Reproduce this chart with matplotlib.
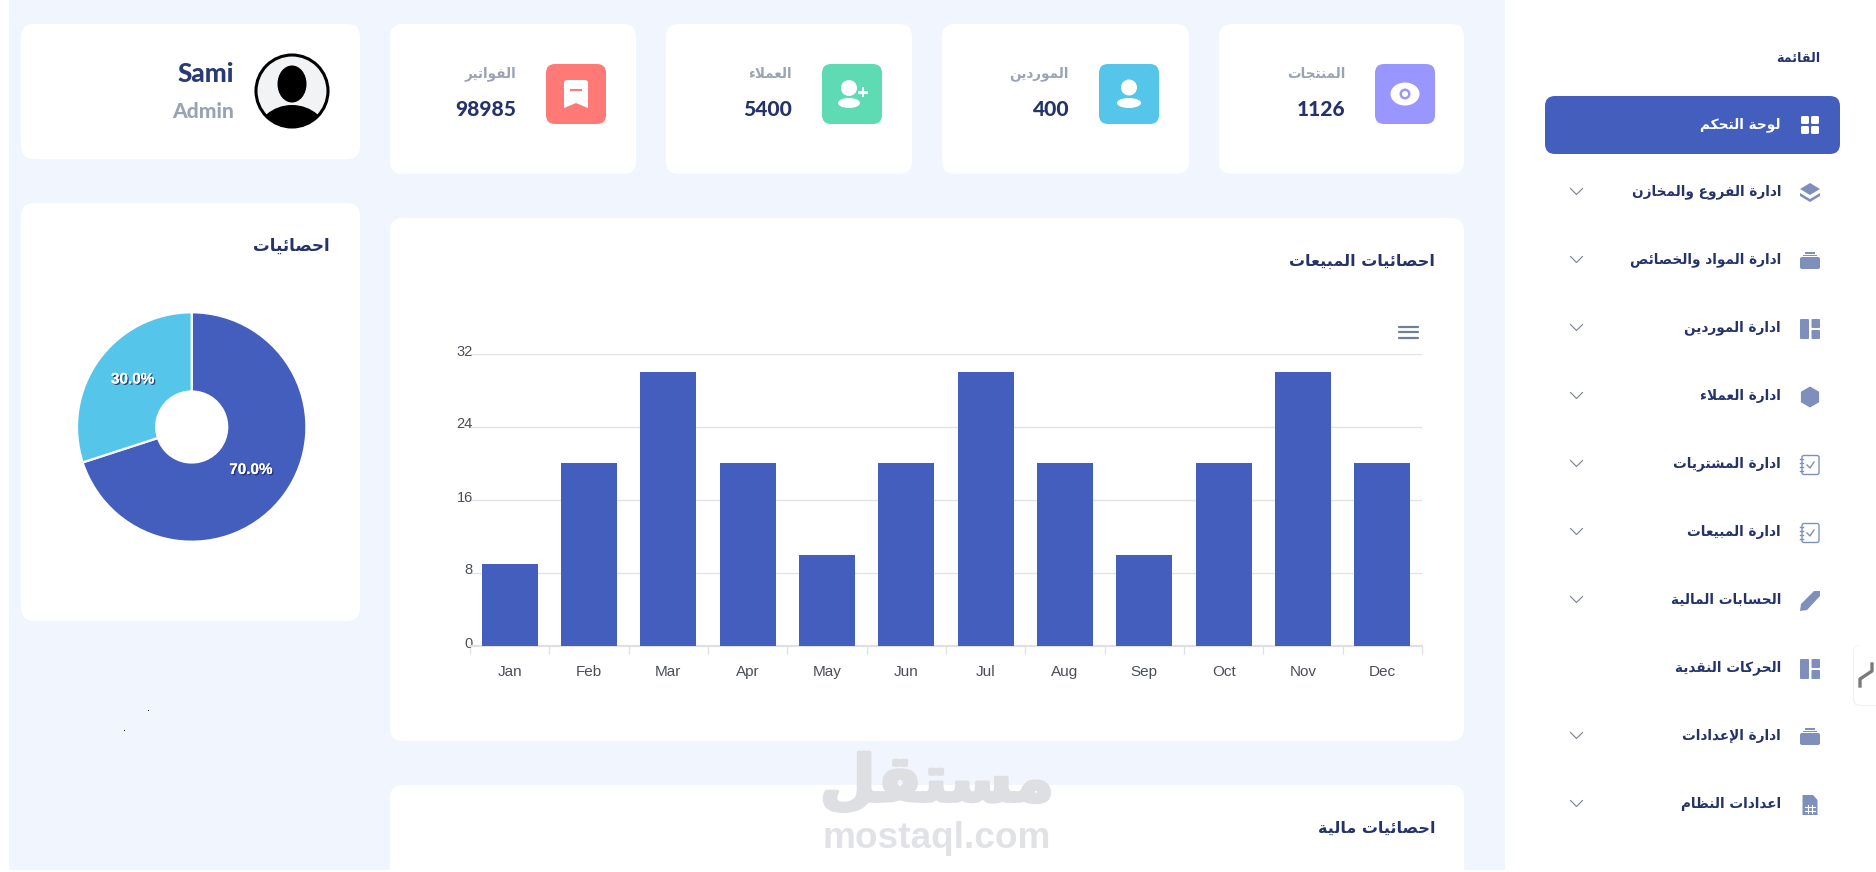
import matplotlib
matplotlib.use("Agg")
import matplotlib.pyplot as plt
import matplotlib.patheffects as pe
import matplotlib.transforms as mtrans
from matplotlib.patches import FancyBboxPatch, Rectangle, Ellipse, Circle, Polygon, RegularPolygon

# ------------------------ data ---------------------------------
months = ["Jan", "Feb", "Mar", "Apr", "May", "Jun", "Jul", "Aug", "Sep", "Oct", "Nov", "Dec"]
sales_values = [9, 20, 30, 20, 10, 20, 30, 20, 10, 20, 30, 20]
sales_ticks = [0, 8, 16, 24, 32]

pie_values = [70, 30]

stat_labels = ["الفواتير", "العملاء", "الموردين", "المنتجات"]
stat_numbers = ["98985", "5400", "400", "1126"]

menu_title = "القائمة"
menu_items = ["لوحة التحكم", "ادارة الفروع والمخازن", "ادارة المواد والخصائص", "ادارة الموردين",
              "ادارة العملاء", "ادارة المشتريات", "ادارة المبيعات", "الحسابات المالية",
              "الحركات النقدية", "ادارة الإعدادات", "اعدادات النظام"]
menu_icons = ["grid", "layers", "case", "layout", "hex", "check", "check", "pen", "layout", "case", "file"]
menu_arrows = [False, True, True, True, True, True, True, True, False, True, True]

# colours
BG = "#F1F5FE"
BLUE = "#445EBD"
CYAN = "#55C6EA"
NAVY = "#25336B"
GREY = "#9AA3B5"
ICON = "#7F8FBB"
stat_colors = ["#FF7976", "#5FDBB3", "#55C6EA", "#9A96FF"]

# -------------------- arabic shaping ---------------------------
# matplotlib does not join arabic letters, so map to presentation forms by hand
# letter: (first code point, number of forms)
FORMS = {"ء": (0xFE80, 1), "أ": (0xFE83, 2), "إ": (0xFE87, 2), "ئ": (0xFE89, 4), "ا": (0xFE8D, 2),
         "ب": (0xFE8F, 4), "ة": (0xFE93, 2), "ت": (0xFE95, 4), "ج": (0xFE9D, 4), "ح": (0xFEA1, 4),
         "خ": (0xFEA5, 4), "د": (0xFEA9, 2), "ر": (0xFEAD, 2), "ز": (0xFEAF, 2), "س": (0xFEB1, 4),
         "ش": (0xFEB5, 4), "ص": (0xFEB9, 4), "ظ": (0xFEC5, 4), "ع": (0xFEC9, 4), "ف": (0xFED1, 4),
         "ق": (0xFED5, 4), "ك": (0xFED9, 4), "ل": (0xFEDD, 4), "م": (0xFEE1, 4), "ن": (0xFEE5, 4),
         "و": (0xFEED, 2), "ي": (0xFEF1, 4)}
LAM_ALEF = {"ا": 0xFEFB, "أ": 0xFEF7, "إ": 0xFEF9}


def shape(s):
    out = []
    i = 0
    prev_joins = False
    while i < len(s):
        ch = s[i]
        if ch not in FORMS:
            out.append(ch)
            prev_joins = False
            i += 1
            continue
        nxt = s[i + 1] if i + 1 < len(s) else " "
        if ch == "ل" and nxt in LAM_ALEF:
            out.append(chr(LAM_ALEF[nxt] + (1 if prev_joins else 0)))
            prev_joins = False
            i += 2
            continue
        base, n = FORMS[ch]
        next_joins = n == 4 and nxt in FORMS
        if n == 1:
            code = base
        elif prev_joins and next_joins:
            code = base + 3
        elif prev_joins:
            code = base + 1
        elif next_joins:
            code = base + 2
        else:
            code = base
        out.append(chr(code))
        prev_joins = next_joins
        i += 1
    return "".join(reversed(out))


# ------------------------ page ---------------------------------
fig = plt.figure(figsize=(18.76, 8.72), dpi=100, facecolor="white")
page = fig.add_axes([0, 0, 1, 1], zorder=0)
page.set_xlim(0, 1876)
page.set_ylim(872, 0)
page.axis("off")


def box(x0, y0, x1, y1, color, r=12, **kw):
    p = FancyBboxPatch((x0, y0), x1 - x0, y1 - y0, boxstyle="round,pad=0,rounding_size=%g" % r,
                       fc=color, ec="none", **kw)
    page.add_patch(p)
    return p


def txt(x, y, s, px, color, ha="right", family="DejaVu Sans", weight="bold", **kw):
    return page.text(x, y, s, fontsize=px * 0.72, color=color, ha=ha, va="center",
                     family=family, weight=weight, **kw)


page.add_patch(Rectangle((9, 0), 1496, 870, fc=BG, ec="none"))

# cards
box(21, 24, 360, 159, "white", 13)
box(21, 203, 360, 621, "white", 13)
box(390, 218, 1464, 741, "white", 13)
box(390, 785, 1464, 885, "white", 13)

# stat cards
card_left = [390, 666, 942, 1219]
card_right = [636, 912, 1189, 1464]
icon_left = [546, 822, 1099, 1375]
for i in range(4):
    box(card_left[i], 24, card_right[i], 174, "white", 13)
    box(icon_left[i], 64, icon_left[i] + 60, 124, stat_colors[i], 9)
    txt(icon_left[i] - 30, 74, shape(stat_labels[i]), 13.5, GREY)
    txt(icon_left[i] - 30, 110, stat_numbers[i], 21, NAVY, family="Lato", weight="black")

# bookmark icon
cx = icon_left[0] + 30
box(cx - 12, 80, cx + 12, 100, "white", 3)
page.add_patch(Polygon([(cx - 12, 90), (cx + 12, 90), (cx + 12, 108), (cx, 103), (cx - 12, 108)], fc="white", ec="none"))
page.add_patch(Rectangle((cx - 6, 89), 12, 1.6, fc=stat_colors[0], ec="none"))
# user plus icon
cx = icon_left[1] + 27
page.add_patch(Ellipse((cx, 88), 16, 16, fc="white"))
page.add_patch(Ellipse((cx, 103), 22, 10, fc="white"))
page.add_patch(Rectangle((cx + 9, 91), 10, 2.6, fc="white"))
page.add_patch(Rectangle((cx + 12.7, 87.3), 2.6, 10, fc="white"))
# user icon
cx = icon_left[2] + 30
page.add_patch(Ellipse((cx, 87.5), 16, 16, fc="white"))
page.add_patch(Ellipse((cx, 103), 24, 10, fc="white"))
# eye icon
cx = icon_left[3] + 30
page.add_patch(Ellipse((cx, 94), 29, 23, fc="white"))
page.add_patch(Circle((cx, 94), 5.5, fc=stat_colors[3]))
page.add_patch(Circle((cx, 94), 3, fc="white"))

# profile card
avatar = Circle((292, 91), 36, fc="#F1F3F4", ec="black", lw=2.2)
page.add_patch(avatar)
shoulders = Ellipse((292, 137), 72, 64, fc="black", ec="none")
page.add_patch(shoulders)
shoulders.set_clip_path(avatar)
page.add_patch(Ellipse((292, 85), 33, 39, fc="#F1F3F4", ec="none"))
page.add_patch(Ellipse((292, 84), 29, 37, fc="black", ec="none"))
txt(234, 74, "Sami", 26, "#2A3A72", family="Lato", weight="black")
txt(234, 111, "Admin", 21, GREY, family="Lato", weight="black")

# card titles
txt(330, 246, shape("احصائيات"), 16.7, NAVY)
txt(1435, 261, shape("احصائيات المبيعات"), 16, NAVY)
txt(1435, 828, shape("احصائيات مالية"), 16, NAVY)

# stray specks
page.add_patch(Rectangle((148, 710), 1.2, 1.2, fc="black"))
page.add_patch(Rectangle((124, 730), 1.2, 1.2, fc="black"))

# hamburger
for y in (327, 332.5, 338):
    page.plot([1399, 1418], [y, y], color="#6E8192", lw=1.6, solid_capstyle="round")


# ------------------------ sidebar ------------------------------
def side_icon(kind, cx, cy, col):
    if kind == "grid":
        for dx in (-5, 5):
            for dy in (-5, 5):
                box(cx + dx - 4, cy + dy - 4, cx + dx + 4, cy + dy + 4, col, 1.5)
    elif kind == "layers":
        page.add_patch(Polygon([(cx, cy - 10), (cx + 10, cy - 4), (cx, cy + 2), (cx - 10, cy - 4)], fc=col))
        page.add_patch(Polygon([(cx - 10, cy), (cx, cy + 6), (cx + 10, cy), (cx + 10, cy + 3), (cx, cy + 9), (cx - 10, cy + 3)], fc=col))
    elif kind == "case":
        box(cx - 10, cy - 4, cx + 10, cy + 8, col, 2)
        page.add_patch(Rectangle((cx - 5, cy - 9), 10, 1.5, fc=col))
        page.add_patch(Rectangle((cx - 7, cy - 6.5), 14, 1.5, fc=col))
    elif kind == "layout":
        box(cx - 10, cy - 10, cx - 1, cy + 10, col, 1)
        box(cx + 1.5, cy - 10, cx + 10, cy - 1, col, 1)
        box(cx + 1.5, cy + 1, cx + 10, cy + 10, col, 1)
    elif kind == "hex":
        page.add_patch(RegularPolygon((cx, cy), 6, radius=10.5, fc=col))
    elif kind == "check":
        p = FancyBboxPatch((cx - 8, cy - 9.5), 17, 19, boxstyle="round,pad=0,rounding_size=2", fc="none", ec=col, lw=1)
        page.add_patch(p)
        for dy in (-6, -2, 2, 6):
            page.plot([cx - 10, cx - 7], [cy + dy, cy + dy], color=col, lw=1)
        page.plot([cx - 3, cx, cx + 4], [cy, cy + 3, cy - 3], color=col, lw=1)
    elif kind == "pen":
        page.add_patch(Polygon([(cx - 10, cy + 10), (cx - 9, cy + 3), (cx + 4, cy - 10), (cx + 10, cy - 10),
                                (cx + 10, cy - 5), (cx - 3, cy + 9)], fc=col))
    elif kind == "file":
        page.add_patch(Polygon([(cx - 7.5, cy - 10), (cx + 3, cy - 10), (cx + 7.5, cy - 5), (cx + 7.5, cy + 10),
                                (cx - 7.5, cy + 10)], fc=col))
        for dy in (2, 6):
            page.plot([cx - 5, cx + 5], [cy + dy, cy + dy], color="white", lw=0.8)
        for dx in (-2, 2):
            page.plot([cx + dx, cx + dx], [cy, cy + 8], color="white", lw=0.8)


txt(1820, 58, shape(menu_title), 12.8, NAVY)
box(1545, 96, 1840, 154, BLUE, 10)
row_ys = [125] + [192 + 68 * i for i in range(10)]
for i, item in enumerate(menu_items):
    y = row_ys[i]
    active = i == 0
    txt(1781, y, shape(item), 13.6, "white" if active else NAVY)
    side_icon(menu_icons[i], 1810, y + (0 if active else 1), "white" if active else ICON)
    if menu_arrows[i]:
        page.plot([1570.5, 1576.5, 1582.5], [y - 3.5, y + 2.5, y - 3.5], color="#7A808C", lw=0.8)

# side tab
box(1853, 645, 1890, 706, "#EEF0F2", 7)
box(1854, 645, 1890, 705, "white", 7)
page.plot([1860, 1860, 1872, 1872], [686, 679, 671, 664], color="#7A7A7A", lw=2.4)

# watermark
txt(937, 783, shape("مستقل"), 64, "#DDDFE3", ha="center",
    path_effects=[pe.withStroke(linewidth=2.5, foreground="#DDDFE3")])
txt(937, 838, "mostaql.com", 37, "#E1E2E5", ha="center", family="Liberation Sans")


# ------------------------ bar chart ----------------------------
ax = fig.add_axes([470 / 1876, (872 - 646) / 872, 952 / 1876, 292 / 872], zorder=1)
ax.patch.set_alpha(0)
x = list(range(len(months)))
ax.bar(x, sales_values, width=0.71, color=BLUE, zorder=3)
ax.set_xlim(-0.5, 11.5)
ax.set_ylim(0, 32)
ax.set_yticks(sales_ticks)
ax.grid(True, axis="y", color="#E3E3E3", lw=1, zorder=0)
ax.set_axisbelow(True)
for name in ("top", "left", "right"):
    ax.spines[name].set_visible(False)
ax.spines["bottom"].set_color("#E0E0E0")
ax.spines["bottom"].set_linewidth(1.6)
ax.set_xticks([v - 0.5 for v in range(13)])
ax.set_xticklabels([])
ax.set_xticks(x, months, minor=True)
ax.tick_params(axis="x", which="major", length=5.8, color="#E0E0E0", width=0.9)
ax.tick_params(axis="x", which="minor", length=0, pad=13.5, labelsize=11, labelcolor="#4A4F57")
ax.tick_params(axis="y", length=0, pad=-2, labelsize=10.5, labelcolor="#4A4F57")
up = mtrans.ScaledTranslation(0, 4 / 100, fig.dpi_scale_trans)
for lab in ax.get_yticklabels():
    lab.set_family("Liberation Sans")
    lab.set_transform(lab.get_transform() + up)
for lab in ax.get_xticklabels(minor=True):
    lab.set_family("Liberation Sans")


# ------------------------ donut --------------------------------
r = 114.7
pie_ax = fig.add_axes([(191.7 - r) / 1876, (872 - 427 - r) / 872, 2 * r / 1876, 2 * r / 872], zorder=1)
wedges, _, autotexts = pie_ax.pie(pie_values, colors=[BLUE, CYAN], startangle=90, counterclock=False,
                                  autopct="%.1f%%", pctdistance=0.637, radius=1,
                                  wedgeprops={"width": 1 - 35.5 / r, "edgecolor": "white", "linewidth": 1.6})
pie_ax.set_xlim(-1, 1)
pie_ax.set_ylim(-1, 1)
for t in autotexts:
    t.set_color("white")
    t.set_fontsize(11)
    t.set_fontweight("bold")
    t.set_family("Liberation Sans")
    t.set_path_effects([pe.withSimplePatchShadow(offset=(1, -1), shadow_rgbFace="#1E2A55", alpha=0.8), pe.Normal()])
# the 30% label sits a little higher in the original
autotexts[1].set_y(autotexts[1].get_position()[1] + 0.04)

fig.savefig("out.png", dpi=100)
